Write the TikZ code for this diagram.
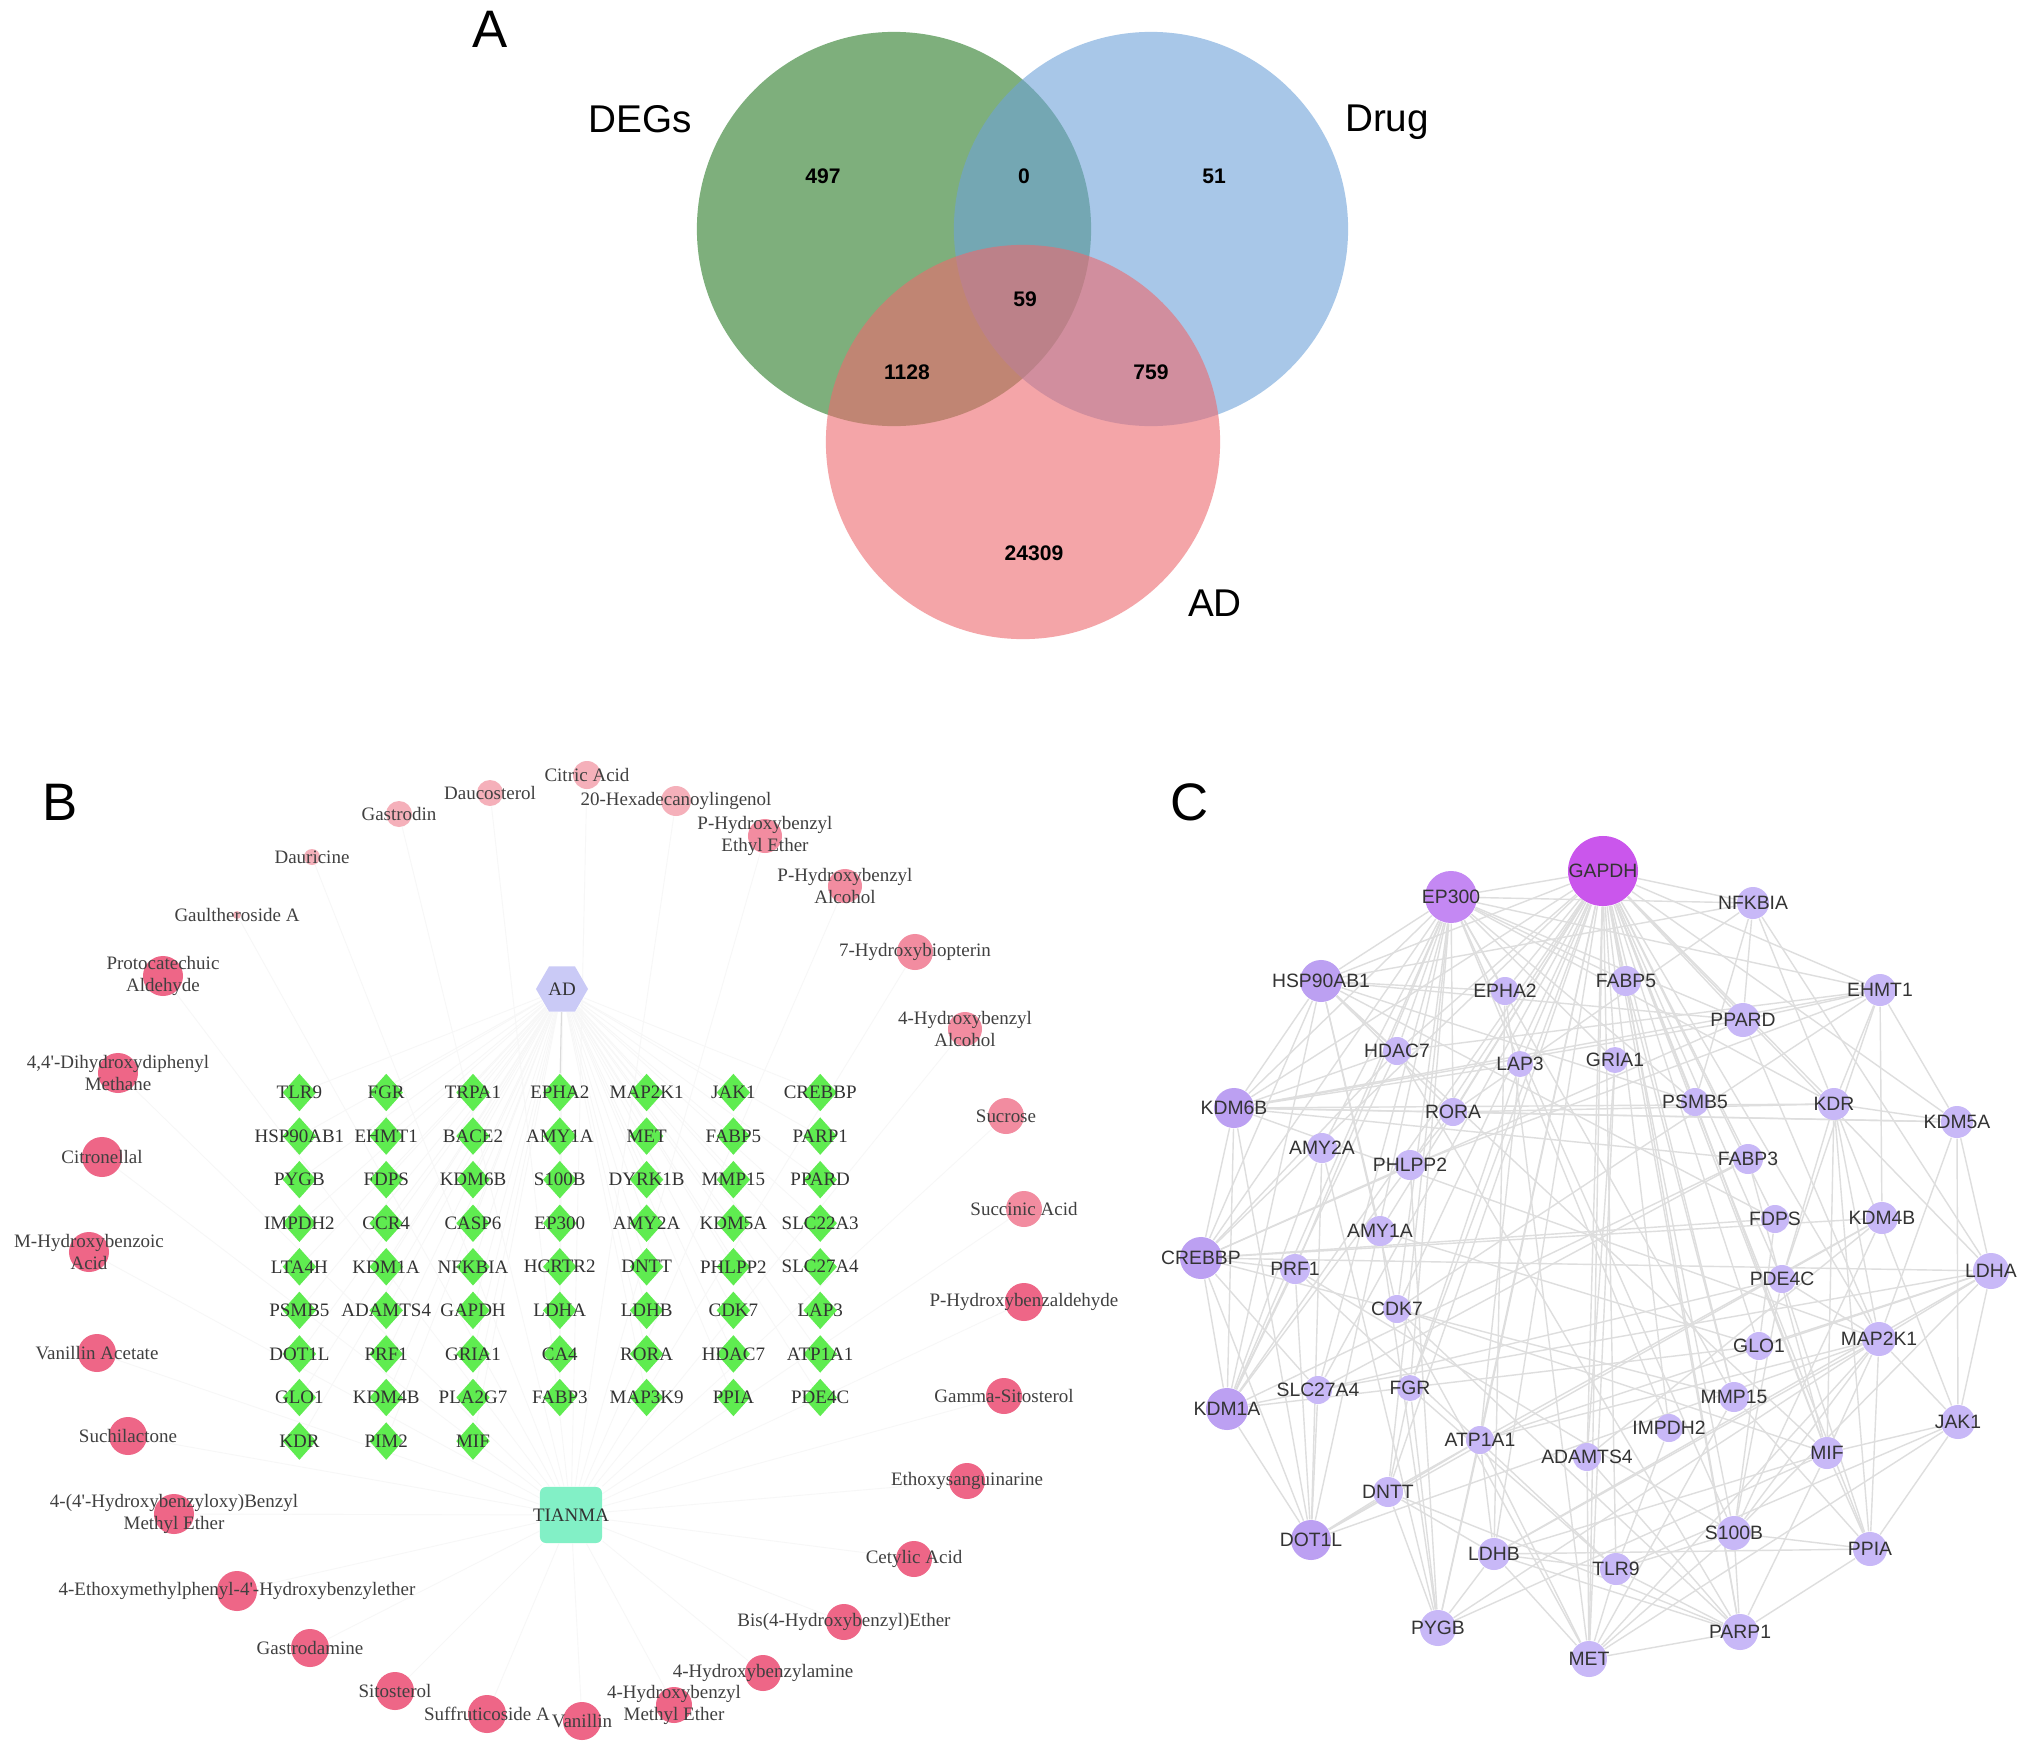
\documentclass[tikz,border=0pt]{standalone}
\usepackage{fontspec}
\setmainfont{Liberation Serif}[Ligatures=TeXOff]
\newfontfamily\arial{Liberation Sans}
\usetikzlibrary{shapes.geometric}
\pgfdeclarelayer{bg}
\pgfsetlayers{bg,main}

\definecolor{degs}{RGB}{40,123,38}
\definecolor{drug}{RGB}{110,163,217}
\definecolor{adset}{RGB}{237,105,110}
\definecolor{genegreen}{RGB}{95,236,80}
\definecolor{hexblue}{RGB}{202,202,246}
\definecolor{herbteal}{RGB}{130,240,198}
\definecolor{cpdhi}{RGB}{238,102,135}
\definecolor{cpdmid}{RGB}{242,140,160}
\definecolor{cpdlo}{RGB}{245,176,186}
\definecolor{ppilo}{RGB}{200,184,247}
\definecolor{ppimid}{RGB}{188,160,242}
\definecolor{ppitop}{RGB}{196,136,243}
\definecolor{ppihi}{RGB}{202,86,236}

\tikzset{
  setfill/.style={fill opacity=0.6},
  panel/.style={font=\arial\fontsize{15}{15}\selectfont},
  setname/.style={font=\arial\fontsize{11}{11}\selectfont},
  setnum/.style={font=\arial\bfseries\fontsize{6}{6}\selectfont},
  gene/.style={diamond, fill=genegreen, inner sep=0pt, minimum width=0.34cm, minimum height=0.38cm},
  glabel/.style={text=black!80, font=\fontsize{5.4}{5.4}\selectfont, inner sep=0pt},
  cpd/.style={circle, inner sep=0pt},
  clabel/.style={text=black!75, font=\fontsize{5.4}{6.4}\selectfont, align=center, inner sep=0pt},
  hexnode/.style={regular polygon, regular polygon sides=6, minimum size=0.52cm, inner sep=0pt, fill=hexblue},
  herb/.style={rectangle, rounded corners=0.06cm, minimum width=0.62cm, minimum height=0.56cm, inner sep=0pt, fill=herbteal},
  netedge/.style={black!3, line width=0.25pt},
  ppi/.style={circle, inner sep=0pt},
  plabel/.style={text=black!80, font=\arial\fontsize{5.5}{5.5}\selectfont, inner sep=0pt},
  ppiedge/.style={black!13, line width=0.4pt}
}

\begin{document}
\begin{tikzpicture}[x=0.01cm,y=-0.01cm]
  \useasboundingbox (0,0) rectangle (2032,1757);
  \begin{pgfonlayer}{bg}
    \fill[white] (0,0) rectangle (2032,1757);
  \end{pgfonlayer}

  % A: venn
  \node[panel, anchor=base] at (490,47) {A};
  \fill[degs,setfill] (894,229) circle[radius=1.97cm];
  \fill[drug,setfill] (1151,229) circle[radius=1.97cm];
  \fill[adset,setfill] (1023,442) circle[radius=1.97cm];
  \node[setname, anchor=base] at (640,132) {DEGs};
  \node[setname, anchor=base] at (1387,131) {Drug};
  \node[setname, anchor=base] at (1215,616) {AD};
  \node[setnum] at (823,176) {497};
  \node[setnum] at (1024,176) {0};
  \node[setnum] at (1214,176) {51};
  \node[setnum] at (1025,299) {59};
  \node[setnum] at (907,372) {1128};
  \node[setnum] at (1151,372) {759};
  \node[setnum] at (1034,553) {24309};

  % B: herb - compound - target network
  \node[panel, anchor=base] at (60,820) {B};
  \node[hexnode] (ad) at (562,989) {};
  \node[glabel] at (ad) {AD};
  \node[herb] (tianma) at (571,1515) {};
  \node[glabel] at (tianma) {TIANMA};

  \foreach \name [count=\i from 0] in {TLR9,FGR,TRPA1,EPHA2,MAP2K1,JAK1,CREBBP,
      HSP90AB1,EHMT1,BACE2,AMY1A,MET,FABP5,PARP1,
      PYGB,FDPS,KDM6B,S100B,DYRK1B,MMP15,PPARD,
      IMPDH2,CCR4,CASP6,EP300,AMY2A,KDM5A,SLC22A3,
      LTA4H,KDM1A,NFKBIA,HCRTR2,DNTT,PHLPP2,SLC27A4,
      PSMB5,ADAMTS4,GAPDH,LDHA,LDHB,CDK7,LAP3,
      DOT1L,PRF1,GRIA1,CA4,RORA,HDAC7,ATP1A1,
      GLO1,KDM4B,PLA2G7,FABP3,MAP3K9,PPIA,PDE4C,
      KDR,PIM2,MIF} {
    \pgfmathtruncatemacro\col{mod(\i,7)}
    \pgfmathtruncatemacro\row{div(\i,7)}
    \node[gene] (g\i) at ({299.4+86.8*\col},{1092.5+43.57*\row}) {};
    \node[glabel] at (g\i) {\name};
  }

  \foreach \x/\y/\dia/\tone/\lbl [count=\k] in {
      399/814/2.6mm/cpdlo/{Gastrodin},
      490/793/2.6mm/cpdlo/{Daucosterol},
      587/775/2.8mm/cpdlo/{Citric Acid},
      676/801/3.0mm/cpdlo/{20-Hexadecanoylingenol},
      765/836/3.4mm/cpdmid/{P-Hydroxybenzyl\\Ethyl Ether},
      845/886/3.4mm/cpdmid/{P-Hydroxybenzyl\\Alcohol},
      915/952/3.6mm/cpdmid/{7-Hydroxybiopterin},
      965/1029/3.4mm/cpdmid/{4-Hydroxybenzyl\\Alcohol},
      1006/1116/3.6mm/cpdmid/{Sucrose},
      1024/1209/3.6mm/cpdmid/{Succinic Acid},
      1024/1302/3.8mm/cpdhi/{P-Hydroxybenzaldehyde},
      1004/1396/3.6mm/cpdhi/{Gamma-Sitosterol},
      967/1481/3.6mm/cpdhi/{Ethoxysanguinarine},
      914/1559/3.6mm/cpdhi/{Cetylic Acid},
      844/1622/3.6mm/cpdhi/{Bis(4-Hydroxybenzyl)Ether},
      763/1673/3.6mm/cpdhi/{4-Hydroxybenzylamine},
      674/1705/3.6mm/cpdhi/{4-Hydroxybenzyl\\Methyl Ether},
      582/1721/3.8mm/cpdhi/{Vanillin},
      487/1714/3.8mm/cpdhi/{Suffruticoside A},
      395/1691/3.8mm/cpdhi/{Sitosterol},
      310/1648/3.8mm/cpdhi/{Gastrodamine},
      237/1591/4.0mm/cpdhi/{4-Ethoxymethylphenyl-4'-Hydroxybenzylether},
      174/1514/4.0mm/cpdhi/{4-(4'-Hydroxybenzyloxy)Benzyl\\Methyl Ether},
      128/1436/3.8mm/cpdhi/{Suchilactone},
      97/1353/3.8mm/cpdhi/{Vanillin Acetate},
      89/1252/4.0mm/cpdhi/{M-Hydroxybenzoic\\Acid},
      102/1157/4.0mm/cpdhi/{Citronellal},
      118/1073/4.0mm/cpdhi/{4,4'-Dihydroxydiphenyl\\Methane},
      163/976/4.0mm/cpdhi/{Protocatechuic\\Aldehyde},
      237/915/0.8mm/cpdlo/{Gaultheroside A},
      312/857/1.6mm/cpdlo/{Dauricine}} {
    \node[cpd, minimum size=\dia, fill=\tone] (d\k) at (\x,\y) {};
    \node[clabel] at (d\k) {\lbl};
  }

  \begin{pgfonlayer}{bg}
    \foreach \i in {0,...,58} \draw[netedge] (ad) -- (g\i);
    \foreach \k in {1,...,31} \draw[netedge] (tianma) -- (d\k);
    \draw[black!14, line width=0.3pt] (ad) -- (g3);
  \end{pgfonlayer}

  % C: PPI network
  \node[panel, anchor=base] at (1190,820) {C};
  \foreach \n/\x/\y/\dia/\tone in {
      GAPDH/1603/871/7.0mm/ppihi, EP300/1451/897/5.2mm/ppitop,
      NFKBIA/1753/903/3.2mm/ppilo, HSP90AB1/1321/981/4.2mm/ppimid,
      EPHA2/1505/991/2.8mm/ppilo, FABP5/1626/981/3.0mm/ppilo,
      EHMT1/1880/990/3.2mm/ppilo, PPARD/1743/1020/3.4mm/ppilo,
      HDAC7/1397/1051/2.8mm/ppilo, LAP3/1520/1064/2.6mm/ppilo,
      GRIA1/1615/1060/2.6mm/ppilo, KDM6B/1234/1108/4.0mm/ppimid,
      RORA/1453/1112/2.8mm/ppilo, PSMB5/1695/1102/2.8mm/ppilo,
      KDR/1834/1104/3.2mm/ppilo, KDM5A/1957/1122/3.2mm/ppilo,
      AMY2A/1322/1148/3.0mm/ppilo, PHLPP2/1410/1165/3.0mm/ppilo,
      FABP3/1748/1159/3.0mm/ppilo, FDPS/1775/1219/2.8mm/ppilo,
      KDM4B/1882/1218/3.2mm/ppilo, AMY1A/1380/1231/3.0mm/ppilo,
      CREBBP/1201/1258/4.2mm/ppimid, PRF1/1295/1269/3.0mm/ppilo,
      PDE4C/1782/1279/2.8mm/ppilo, LDHA/1991/1271/3.6mm/ppilo,
      CDK7/1397/1309/2.8mm/ppilo, GLO1/1759/1346/2.8mm/ppilo,
      MAP2K1/1879/1339/3.4mm/ppilo, SLC27A4/1318/1390/2.8mm/ppilo,
      FGR/1410/1388/2.6mm/ppilo, KDM1A/1227/1409/4.2mm/ppimid,
      MMP15/1734/1397/3.0mm/ppilo, JAK1/1958/1422/3.4mm/ppilo,
      IMPDH2/1669/1428/2.8mm/ppilo, ATP1A1/1480/1440/2.8mm/ppilo,
      ADAMTS4/1587/1457/2.8mm/ppilo, MIF/1827/1453/3.2mm/ppilo,
      DNTT/1388/1492/3.0mm/ppilo, DOT1L/1311/1540/4.0mm/ppimid,
      S100B/1734/1533/3.4mm/ppilo, PPIA/1870/1549/3.4mm/ppilo,
      LDHB/1494/1554/3.2mm/ppilo, TLR9/1616/1569/3.2mm/ppilo,
      PYGB/1438/1628/3.6mm/ppilo, MET/1589/1659/3.6mm/ppilo,
      PARP1/1740/1632/3.6mm/ppilo} {
    \node[ppi, minimum size=\dia, fill=\tone] (c-\n) at (\x,\y) {};
    \node[plabel] at (c-\n) {\n};
  }

  \begin{pgfonlayer}{bg}
    \foreach \a/\b in {
        GAPDH/EP300, GAPDH/NFKBIA, GAPDH/HSP90AB1, GAPDH/EPHA2, GAPDH/FABP5,
        GAPDH/PPARD, GAPDH/EHMT1, GAPDH/LAP3, GAPDH/GRIA1, GAPDH/KDM6B,
        GAPDH/RORA, GAPDH/PSMB5, GAPDH/KDR, GAPDH/KDM5A, GAPDH/PHLPP2,
        GAPDH/FABP3, GAPDH/FDPS, GAPDH/AMY1A, GAPDH/CREBBP, GAPDH/PDE4C,
        GAPDH/LDHA, GAPDH/CDK7, GAPDH/GLO1, GAPDH/MAP2K1, GAPDH/MMP15,
        GAPDH/IMPDH2, GAPDH/ATP1A1, GAPDH/ADAMTS4, GAPDH/MIF, GAPDH/S100B,
        GAPDH/TLR9, GAPDH/MET, GAPDH/PARP1, GAPDH/LDHB, GAPDH/PPIA,
        GAPDH/HDAC7, GAPDH/KDM1A, GAPDH/DNTT, GAPDH/PYGB, GAPDH/SLC27A4,
        GAPDH/FGR,
        EP300/HSP90AB1, EP300/EPHA2, EP300/HDAC7, EP300/KDM6B, EP300/CREBBP,
        EP300/KDM1A, EP300/PPARD, EP300/EHMT1, EP300/KDR, EP300/PSMB5,
        EP300/FABP5, EP300/NFKBIA, EP300/RORA, EP300/PRF1, EP300/DOT1L,
        EP300/AMY2A, EP300/S100B, EP300/MMP15, EP300/GRIA1, EP300/SLC27A4,
        EP300/LAP3, EP300/CDK7, EP300/DNTT, EP300/FGR,
        NFKBIA/PPARD, NFKBIA/KDR, NFKBIA/PSMB5, NFKBIA/HSP90AB1, NFKBIA/LDHA,
        NFKBIA/RORA,
        HSP90AB1/KDM6B, HSP90AB1/CREBBP, HSP90AB1/EPHA2, HSP90AB1/HDAC7,
        HSP90AB1/RORA, HSP90AB1/KDM1A, HSP90AB1/PSMB5, HSP90AB1/AMY1A,
        HSP90AB1/FDPS, HSP90AB1/MIF, HSP90AB1/CDK7, HSP90AB1/PPARD,
        EHMT1/KDM6B, EHMT1/KDM5A, EHMT1/PPARD, EHMT1/CDK7, EHMT1/KDR,
        EHMT1/PDE4C, EHMT1/KDM4B, EHMT1/HDAC7, EHMT1/PHLPP2,
        KDM6B/KDM5A, KDM6B/CREBBP, KDM6B/KDM1A, KDM6B/PPARD, KDM6B/RORA,
        KDM6B/LAP3, KDM6B/MAP2K1, KDM6B/FABP3, KDM6B/HDAC7, KDM6B/DOT1L,
        CREBBP/KDM1A, CREBBP/DOT1L, CREBBP/PRF1, CREBBP/LDHA, CREBBP/KDM4B,
        CREBBP/PPARD, CREBBP/FDPS, CREBBP/MMP15, CREBBP/SLC27A4, CREBBP/HDAC7,
        CREBBP/PHLPP2,
        KDM1A/DOT1L, KDM1A/SLC27A4, KDM1A/PRF1, KDM1A/HDAC7, KDM1A/PHLPP2,
        KDM1A/FABP3, KDM1A/GLO1, KDM1A/AMY2A,
        DOT1L/DNTT, DOT1L/ATP1A1, DOT1L/MAP2K1, DOT1L/PRF1, DOT1L/SLC27A4,
        DOT1L/AMY2A, DOT1L/KDM4B,
        PYGB/LDHB, PYGB/FGR, PYGB/DNTT, PYGB/ATP1A1, PYGB/MAP2K1, PYGB/MIF,
        PYGB/AMY2A, PYGB/AMY1A, PYGB/PHLPP2,
        MET/PARP1, MET/TLR9, MET/ADAMTS4, MET/LDHB, MET/ATP1A1, MET/MAP2K1,
        MET/MMP15, MET/S100B, MET/JAK1, MET/EPHA2, MET/CDK7, MET/GRIA1,
        PARP1/TLR9, PARP1/DNTT, PARP1/S100B, PARP1/MIF, PARP1/FABP5,
        PARP1/LDHB, PARP1/PPIA, PARP1/HDAC7, PARP1/ADAMTS4,
        PPIA/S100B, PPIA/MIF, PPIA/JAK1, PPIA/MMP15, PPIA/LDHB, PPIA/PDE4C,
        PPIA/KDR,
        LDHA/JAK1, LDHA/MAP2K1, LDHA/LDHB, LDHA/S100B, LDHA/KDM5A, LDHA/GLO1,
        LDHA/SLC27A4,
        LDHB/TLR9, LDHB/ATP1A1, LDHB/DNTT, LDHB/MIF, LDHB/MAP2K1,
        JAK1/KDM5A, JAK1/MAP2K1, JAK1/TLR9, JAK1/MIF, JAK1/KDR,
        MAP2K1/KDR, MAP2K1/MIF, MAP2K1/S100B, MAP2K1/PPIA, MAP2K1/PDE4C,
        MAP2K1/ATP1A1, MAP2K1/KDM5A, MAP2K1/PPARD,
        KDR/KDM5A, KDR/MIF, KDR/PDE4C, KDR/RORA, KDR/KDM6B,
        S100B/TLR9, S100B/PDE4C, S100B/KDM4B, S100B/GLO1, S100B/PRF1,
        RORA/KDM5A, RORA/PHLPP2, FGR/DNTT, FGR/LAP3, FGR/TLR9,
        DNTT/ATP1A1, ATP1A1/LDHA, ATP1A1/KDM4B, SLC27A4/FABP3, SLC27A4/PDE4C,
        CDK7/PARP1, CDK7/MIF, AMY1A/GLO1, PRF1/TLR9, GRIA1/ADAMTS4,
        IMPDH2/LAP3, IMPDH2/TLR9, ADAMTS4/KDM4B, LAP3/ATP1A1, EPHA2/LDHB,
        FABP5/MMP15, PSMB5/MIF, FDPS/GLO1, MIF/FABP3} {
      \draw[ppiedge] (c-\a) -- (c-\b);
    }
  \end{pgfonlayer}
\end{tikzpicture}
\end{document}
